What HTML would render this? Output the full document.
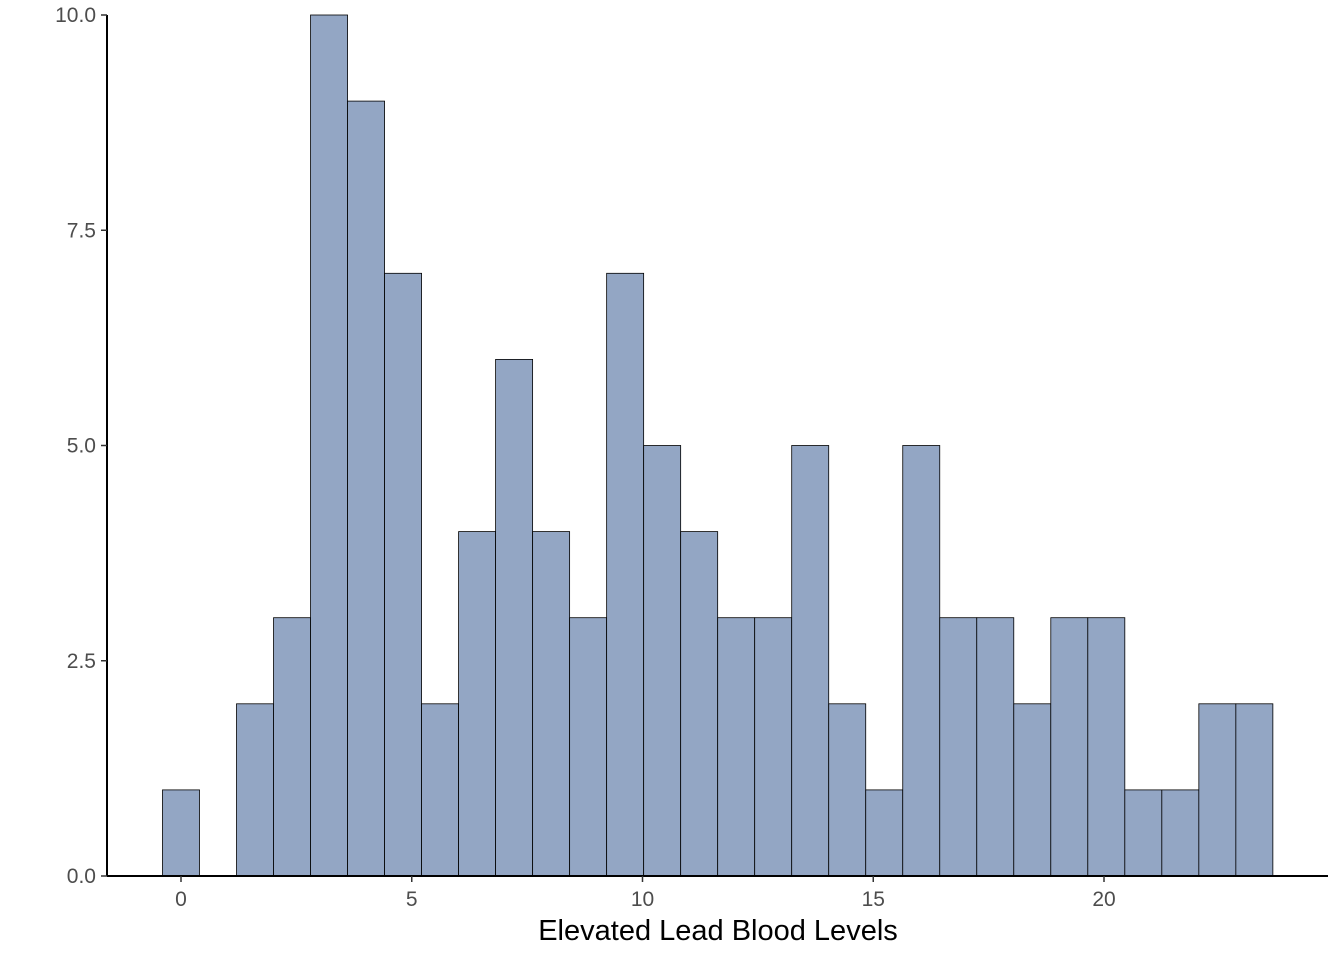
<!DOCTYPE html>
<html><head><meta charset="utf-8"><style>
body{margin:0;background:#fff}
svg{display:block;font-family:"Liberation Sans",Arial,sans-serif}
</style></head><body>
<svg id="chart" width="1344" height="960">
<g id="bars"></g>
<g id="axes"></g>
<text x="718" y="940" text-anchor="middle" font-size="29" fill="#000">Elevated Lead Blood Levels</text>
</svg>
<script>
const binCenters = [0,0.802,1.604,2.406,3.208,4.01,4.812,5.614,6.416,7.218,8.02,8.822,9.624,10.426,11.228,12.03,12.832,13.634,14.436,15.238,16.04,16.842,17.644,18.446,19.248,20.05,20.852,21.654,22.456,23.258];
const counts = [1,0,2,3,10,9,7,2,4,6,4,3,7,5,4,3,3,5,2,1,5,3,3,2,3,3,1,1,2,2];
const binWidth = 0.802;
const xTicks = [0,5,10,15,20];
const yTicks = [0,2.5,5,7.5,10];
const yTickLabels = ["0.0","2.5","5.0","7.5","10.0"];
const NS="http://www.w3.org/2000/svg";
const xs = v => 181 + v*46.15;
const ys = v => 876 - v*86.1;
const bars=document.getElementById('bars'), axes=document.getElementById('axes');
function mk(tag,attrs,parent){const e=document.createElementNS(NS,tag);for(const k in attrs)e.setAttribute(k,attrs[k]);parent.appendChild(e);return e;}
binCenters.forEach((c,i)=>{
  if(counts[i]<=0) return;
  const x0=xs(c-binWidth/2), x1=xs(c+binWidth/2);
  const r=mk('rect',{x:x0,y:ys(counts[i]),width:x1-x0,height:ys(0)-ys(counts[i]),fill:'#93a6c4',stroke:'#000','stroke-width':0.8},bars);
  
  
});
const ya=mk('line',{x1:107,y1:15,x2:107,y2:876,stroke:'#000','stroke-width':2},axes);


const xa=mk('line',{x1:107,y1:876,x2:1328,y2:876,stroke:'#000','stroke-width':2},axes);


yTicks.forEach((v,i)=>{
  mk('line',{x1:101,x2:107,y1:ys(v),y2:ys(v),stroke:'#333','stroke-width':1.5},axes);
  const t=mk('text',{x:96,y:ys(v)+7,'text-anchor':'end','font-size':21,fill:'#4d4d4d'},axes);
  t.textContent=yTickLabels[i];
  
  
});
xTicks.forEach(v=>{
  mk('line',{x1:xs(v),x2:xs(v),y1:876,y2:882,stroke:'#333','stroke-width':1.5},axes);
  const t=mk('text',{x:xs(v),y:906,'text-anchor':'middle','font-size':21,fill:'#4d4d4d'},axes);
  t.textContent=v;
  
  
});
</script>
</body></html>
